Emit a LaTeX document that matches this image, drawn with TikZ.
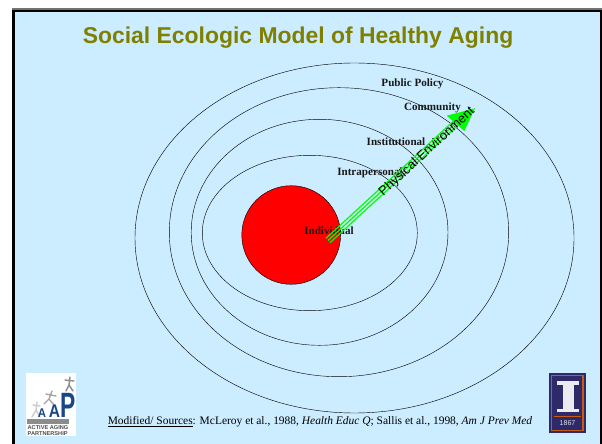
\documentclass[tikz,border=0pt]{standalone}
\usepackage{fontspec}
\setmainfont{Liberation Serif}
\setsansfont{Liberation Sans}
\usepackage{xcolor}
\usetikzlibrary{calc}
\definecolor{slideblue}{RGB}{204,236,255}
\definecolor{titleolive}{RGB}{128,128,0}
\definecolor{arrowgreen}{RGB}{0,255,0}
\definecolor{aapblue}{RGB}{25,70,135}
\definecolor{uinavy}{RGB}{46,42,105}
\definecolor{uiorange}{RGB}{200,90,20}
\tikzset{
    ring/.style={draw=black, line width=0.3pt},
    level/.style={font=\rmfamily\bfseries\fontsize{7.9}{9}\selectfont, text=black!90, inner sep=0pt},
    arrowline/.style={draw=arrowgreen, line width=0.85pt},
    figure/.style={draw=black!45, line width=1pt, line cap=round},
    aapletter/.style={text=aapblue, inner sep=0pt, anchor=base}
}
\begin{document}
\begin{tikzpicture}[x=0.025cm, y=-0.025cm]
    \useasboundingbox (0,0) rectangle (602,444);
    % Slide
    \fill[white] (0,0) rectangle (602,444);
    \fill[black!55] (12,8) rectangle (602,10);
    \fill[black] (12,10) rectangle (602,444);
    \fill[slideblue] (15.2,12.3) rectangle (600,444);
    
    % Title
    \node[font=\sffamily\bfseries\fontsize{16.3}{18}\selectfont, text=titleolive, inner sep=0pt] (title) at (298,38) {Social Ecologic Model of Healthy Aging};
    
    % Rings
    \draw[ring] (354.5,238) ellipse (219.5 and 175);
    \draw[ring] (339,232.2) ellipse (169.7 and 144.5);
    \draw[ring] (319.6,232.3) ellipse (128.4 and 113);
    \draw[ring] (309.8,233) ellipse (107.5 and 77.7);
    \draw[ring, fill=red] (291.2,235) ellipse (49.4 and 49.3);
    
    % Labels
    \node[level] (public) at (412.5,83.5) {Public Policy};
    \node[level] (community) at (432.5,107.5) {Community};
    \node[level] (institutional) at (396,141.8) {Institutional};
    \node[level] (intrapersonal) at (370,172.8) {Intrapersonal};
    \node[level] (individual) at (329,230.8) {Individual};
    
    % Arrow
    \coordinate (arrowstart) at (328,240.5);
    \coordinate (arrowneck) at (455.5,123.3);
    \coordinate (arrowtip) at (475,108.3);
    \foreach \off in {-0.075cm,0cm,0.075cm} {
        \draw[arrowline] ($(arrowstart)!\off!90:(arrowneck)$) -- ($(arrowneck)!\off!-90:(arrowstart)$);
    }
    \fill[arrowgreen] (arrowtip) -- (446.7,115.7) -- (arrowneck) -- (464.3,131) -- cycle;
    \node[font=\sffamily\fontsize{9.2}{10}\selectfont, rotate=42.5, inner sep=0pt] (physical) at (427,152) {Physical Environment};
    
    % Source line
    \node[font=\rmfamily\fontsize{8.15}{9}\selectfont, inner sep=0pt] (source) at (320,421.5) {\underline{Modified/ Sources}: McLeroy et al., 1988, \textit{Health Educ Q}; Sallis et al., 1998, \textit{Am J Prev Med}};
    
    % AAP logo
    \fill[white] (26,373) rectangle (75.5,436);
    \draw[figure, black!20] (37,402) -- (36,410) (36,410) -- (32,417) (36,410) -- (40,417) (33,405) -- (40,406);
    \draw[figure, black!35] (52,391) -- (49,399) (49,399) -- (44,404) (49,399) -- (54,405) (46,394) -- (56,396);
    \draw[figure] (70,377) -- (69,385) (69,385) -- (66,391) (69,385) -- (73,391) (65,380) -- (74,381);
    \node[aapletter, font=\sffamily\bfseries\fontsize{9}{9}\selectfont, xscale=0.9] (aapa) at (42,417) {A};
    \node[aapletter, font=\sffamily\bfseries\fontsize{13}{13}\selectfont, xscale=0.85] (aapb) at (54.5,417) {A};
    \node[aapletter, font=\sffamily\bfseries\fontsize{25}{25}\selectfont, xscale=0.65] (aapc) at (68.5,417) {P};
    \fill[black!45] (27,419) rectangle (69,424);
    \node[font=\sffamily\bfseries\fontsize{4}{4.2}\selectfont, text=black!70, inner sep=0pt, align=left] (aaptext) at (48,431) {ACTIVE AGING\\PARTNERSHIP};
    
    % Illinois logo
    \fill[uinavy] (549,373) rectangle (585.5,433);
    \draw[uiorange, line width=1pt] (551.5,375.5) rectangle (583,430.5);
    \fill[white!90!uinavy] (557,381) rectangle (579,384.5);
    \fill[white!90!uinavy] (563,384.5) rectangle (574,408.5);
    \fill[white!90!uinavy] (557,408.5) rectangle (579,412);
    \fill[uiorange] (554,415.5) rectangle (580.5,417);
    \node[font=\sffamily\fontsize{5}{5}\selectfont, text=white!85!uinavy, inner sep=0pt] (uiyear) at (567.5,423.5) {1867};
\end{tikzpicture}
\end{document}
